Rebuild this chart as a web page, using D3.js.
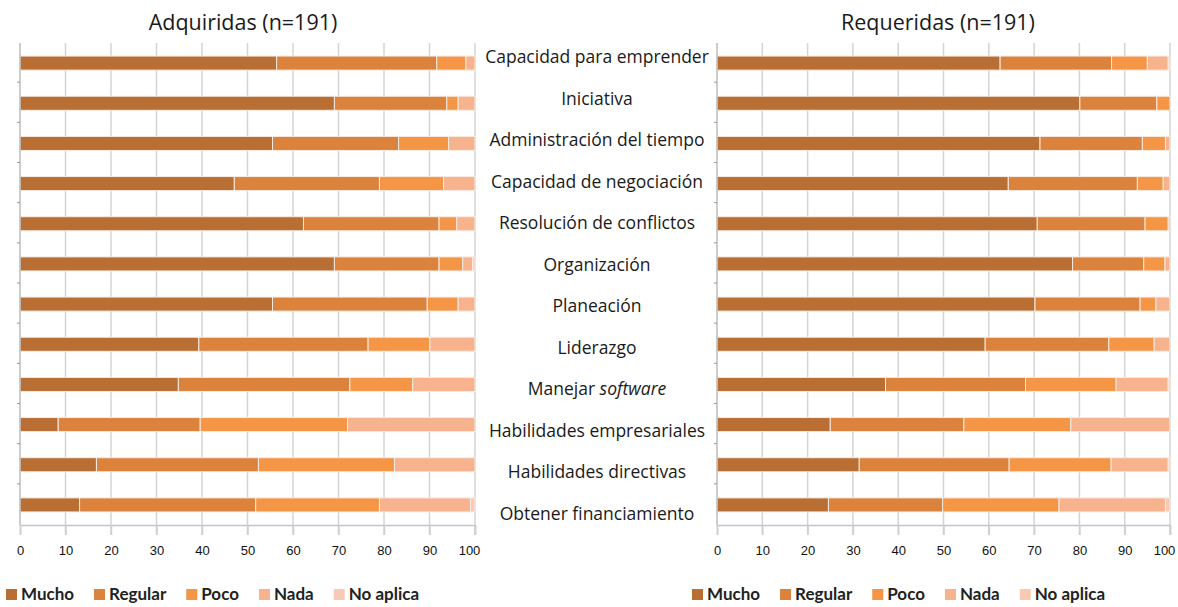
<!DOCTYPE html>
<html>
<head>
<meta charset="utf-8">
<script src="https://cdn.jsdelivr.net/npm/d3@7"></script>
<style>
  body { margin: 0; background: #fff; }
</style>
</head>
<body>
<div id="viz"></div>
<script>
var categories = ["Capacidad para emprender", "Iniciativa", "Administración del tiempo",
  "Capacidad de negociación", "Resolución de conflictos", "Organización", "Planeación",
  "Liderazgo", "Manejar software", "Habilidades empresariales", "Habilidades directivas",
  "Obtener financiamiento"];
var levels = ["Mucho", "Regular", "Poco", "Nada", "No aplica"];
var colours = ["#b96e33", "#db823d", "#f59546", "#f7b38e", "#f9cab3"];
var ticks = [0, 10, 20, 30, 40, 50, 60, 70, 80, 90, 100];

// Adquiridas (n=191)
var adqMucho    = [56.4, 69.1, 55.5, 47.1, 62.3, 69.1, 55.5, 39.3, 34.8, 8.4, 16.8, 13.1];
var adqRegular  = [35.2, 24.7, 27.7, 31.9, 29.8, 23.0, 34.0, 37.2, 37.7, 31.2, 35.6, 38.7];
var adqPoco     = [6.4, 2.5, 11.0, 14.1, 3.9, 5.2, 6.8, 13.6, 13.8, 32.4, 29.9, 27.2];
var adqNada     = [2.0, 3.7, 5.8, 6.9, 4.0, 2.2, 3.7, 9.9, 13.7, 28.0, 17.7, 20.0];
var adqNoAplica = [0, 0, 0, 0, 0, 0.5, 0, 0, 0, 0, 0, 1.0];

// Requeridas (n=191)
var reqMucho    = [62.5, 80.1, 71.3, 64.3, 70.7, 78.5, 70.2, 59.2, 37.2, 25.0, 31.4, 24.6];
var reqRegular  = [24.6, 17.0, 22.6, 28.5, 23.8, 15.7, 23.2, 27.3, 30.9, 29.5, 33.1, 25.2];
var reqPoco     = [7.9, 2.9, 5.1, 5.7, 5.1, 4.7, 3.5, 10.0, 20.0, 23.6, 22.5, 25.7];
var reqNada     = [4.6, 0, 1.0, 1.5, 0.4, 1.1, 3.1, 3.5, 11.5, 21.9, 12.6, 23.5];
var reqNoAplica = [0.4, 0, 0, 0, 0, 0, 0, 0, 0.4, 0, 0.4, 1.0];

var w = 1178, h = 607;

var svg = d3.select("#viz").append("svg")
  .attr("width", w)
  .attr("height", h);

var defs = svg.append("defs");
defs.append("filter")
    .attr("id", "soft")
    .attr("x", "-5%").attr("y", "-200%")
    .attr("width", "110%").attr("height", "500%")
  .append("feGaussianBlur")
    .attr("stdDeviation", 1);

var y = d3.scaleBand()
  .domain(categories)
  .range([43, 525])
  .paddingInner(0.65)
  .paddingOuter(0.325);

var yLabel = d3.scalePoint()
  .domain(categories)
  .range([57, 514]);

var colour = d3.scaleOrdinal().domain(levels).range(colours);

function buildRows(a, b, c, d, e) {
  return categories.map(function(cat, i) {
    return { cat: cat, "Mucho": a[i], "Regular": b[i], "Poco": c[i], "Nada": d[i], "No aplica": e[i] };
  });
}

function drawPanel(rows, x0, x1, title, titleX, legendX, legendGap) {
  var x = d3.scaleLinear().domain([0, 100]).range([x0, x1]);
  var g = svg.append("g");

  // vertical gridlines
  g.append("g")
    .selectAll("line")
    .data(ticks.slice(1))
    .enter().append("line")
      .attr("x1", function(d) { return x(d); })
      .attr("x2", function(d) { return x(d); })
      .attr("y1", y.range()[0])
      .attr("y2", y.range()[1] + 10)
      .style("stroke", "#d4d4d4")
      .style("stroke-width", 1.5);

  // shadow under each bar
  g.append("g")
    .selectAll("line")
    .data(categories)
    .enter().append("line")
      .attr("x1", x0)
      .attr("x2", x1 + 1)
      .attr("y1", function(d) { return y(d) + y.bandwidth() + 3; })
      .attr("y2", function(d) { return y(d) + y.bandwidth() + 3; })
      .attr("filter", "url(#soft)")
      .style("stroke", "#7a7a7a")
      .style("stroke-width", 2.5);

  var stacked = d3.stack().keys(levels)(rows);

  g.append("g")
    .selectAll("g")
    .data(stacked)
    .enter().append("g")
      .style("fill", function(d) { return colour(d.key); })
    .selectAll("rect")
    .data(function(d) { return d; })
    .enter().append("rect")
      .attr("x", function(d) { return x(d[0]); })
      .attr("y", function(d) { return y(d.data.cat); })
      .attr("width", function(d) { return Math.max(0, x(d[1]) - x(d[0])); })
      .attr("height", y.bandwidth())
      .style("stroke", "#f6ece4")
      .style("stroke-width", 1);

  // left axis with small ticks between rows
  g.append("line")
    .attr("x1", x0).attr("x2", x0)
    .attr("y1", y.range()[0]).attr("y2", y.range()[1])
    .style("stroke", "#bdbdbd")
    .style("stroke-width", 1.5);

  g.append("g")
    .selectAll("line")
    .data(categories.slice(1))
    .enter().append("line")
      .attr("x1", x0 - 3).attr("x2", x0)
      .attr("y1", function(d) { return y(d) - y.step() * 0.325 - 1; })
      .attr("y2", function(d) { return y(d) - y.step() * 0.325 - 1; })
      .style("stroke", "#999");

  // bottom axis
  var axis = g.append("g")
    .attr("transform", "translate(0," + y.range()[1] + ")")
    .call(d3.axisBottom(x).tickValues(ticks).tickSize(10).tickPadding(11));
  axis.select(".domain").style("stroke", "#c4c4c4").style("stroke-width", 1.5);
  axis.selectAll(".tick line").style("stroke", "#cfcfcf").style("stroke-width", 1.5);
  axis.selectAll("text")
    .style("font-family", "'Liberation Sans', Arial, sans-serif")
    .style("font-size", "13px")
    .style("fill", "#111")
    .attr("dx", function(d) { return d === 100 ? -6 : 0; });

  // title
  svg.append("text")
    .attr("x", titleX)
    .attr("y", 30)
    .attr("text-anchor", "middle")
    .style("font-family", "'Open Sans', sans-serif")
    .style("font-size", "21.5px")
    .style("fill", "#1a1a1a")
    .text(title);

  // legend
  var leg = svg.append("g")
    .attr("transform", "translate(" + legendX + ",594)");
  var pos = 0;
  levels.forEach(function(k, i) {
    var item = leg.append("g").attr("transform", "translate(" + pos + ",0)");
    item.append("rect")
      .attr("x", 0).attr("y", -5)
      .attr("width", 11).attr("height", 11)
      .style("fill", colour(k));
    var t = item.append("text")
      .attr("x", 15)
      .attr("y", 6)
      .style("font-family", "Lato, sans-serif")
      .style("font-weight", "bold")
      .style("font-size", "17px")
      .style("fill", "#222")
      .text(k);
    pos += 15 + t.node().getComputedTextLength() + legendGap;
  });
}

drawPanel(buildRows(adqMucho, adqRegular, adqPoco, adqNada, adqNoAplica),
  20, 475, "Adquiridas (n=191)", 243, 6, 20);
drawPanel(buildRows(reqMucho, reqRegular, reqPoco, reqNada, reqNoAplica),
  717, 1170, "Requeridas (n=191)", 938, 692, 20);

// category labels between the panels
var labels = svg.append("g")
  .selectAll("text")
  .data(categories)
  .enter().append("text")
    .attr("x", 597)
    .attr("y", function(d) { return yLabel(d) + 6; })
    .attr("text-anchor", "middle")
    .style("font-family", "'Open Sans', sans-serif")
    .style("font-size", "17.5px")
    .style("fill", "#1a1a1a");

labels.each(function(d) {
  var t = d3.select(this);
  if (d === "Manejar software") {
    t.append("tspan").text("Manejar ");
    t.append("tspan").style("font-style", "italic").text("software");
  } else {
    t.text(d);
  }
});
</script>
</body>
</html>
